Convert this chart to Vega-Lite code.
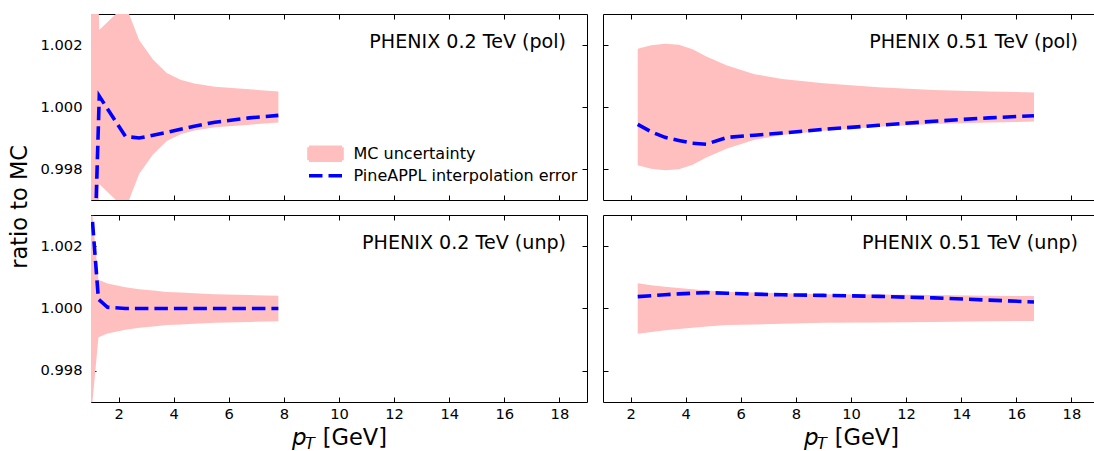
{
  "$schema": "https://vega.github.io/schema/vega-lite/v6.json",
  "background": "white",
  "padding": {"left": 8, "top": 13, "right": -3, "bottom": 0},
  "title": {"text": "ratio to MC", "orient": "left", "anchor": "middle", "frame": "bounds", "fontSize": 22.5, "fontWeight": "normal", "font": "DejaVu Sans", "color": "black", "offset": 8, "dx": 26},
  "config": {
    "font": "DejaVu Sans",
    "view": {"stroke": "black", "strokeWidth": 1},
    "axis": {"domain": false, "grid": false, "tickColor": "black", "tickSize": -5, "tickWidth": 1, "labelFont": "DejaVu Sans", "labelFontSize": 14.7, "labelColor": "black", "titleFont": "DejaVu Sans", "titleFontSize": 22.5, "titleFontWeight": "normal", "titleColor": "black"},
    "concat": {"spacing": 14}
  },
  "datasets": {
    "curves": [
      {"panel": "p02pol", "pt": 1.0, "interp": 0.9914, "lo": 0.988, "hi": 1.012},
      {"panel": "p02pol", "pt": 1.3, "interp": 1.00035, "lo": 0.99752, "hi": 1.00248},
      {"panel": "p02pol", "pt": 2.25, "interp": 0.99905, "lo": 0.9967, "hi": 1.0033},
      {"panel": "p02pol", "pt": 2.75, "interp": 0.999, "lo": 0.99785, "hi": 1.00215},
      {"panel": "p02pol", "pt": 3.25, "interp": 0.99909, "lo": 0.99847, "hi": 1.00153},
      {"panel": "p02pol", "pt": 3.75, "interp": 0.99918, "lo": 0.9989, "hi": 1.0011},
      {"panel": "p02pol", "pt": 4.25, "interp": 0.99928, "lo": 0.99912, "hi": 1.00088},
      {"panel": "p02pol", "pt": 4.75, "interp": 0.99938, "lo": 0.99924, "hi": 1.00076},
      {"panel": "p02pol", "pt": 5.5, "interp": 0.99951, "lo": 0.99935, "hi": 1.00065},
      {"panel": "p02pol", "pt": 6.75, "interp": 0.99965, "lo": 0.99943, "hi": 1.00057},
      {"panel": "p02pol", "pt": 7.8, "interp": 0.99973, "lo": 0.9995, "hi": 1.0005},

      {"panel": "p02unp", "pt": 1.0, "interp": 1.0034, "lo": 0.9965, "hi": 1.0035},
      {"panel": "p02unp", "pt": 1.27, "interp": 1.0003, "lo": 0.99908, "hi": 1.00092},
      {"panel": "p02unp", "pt": 1.6, "interp": 1.00004, "lo": 0.9992, "hi": 1.0008},
      {"panel": "p02unp", "pt": 2.25, "interp": 1.0, "lo": 0.99932, "hi": 1.00068},
      {"panel": "p02unp", "pt": 2.75, "interp": 1.0, "lo": 0.99938, "hi": 1.00062},
      {"panel": "p02unp", "pt": 3.25, "interp": 1.0, "lo": 0.99942, "hi": 1.00058},
      {"panel": "p02unp", "pt": 3.75, "interp": 1.0, "lo": 0.99947, "hi": 1.00053},
      {"panel": "p02unp", "pt": 4.25, "interp": 1.0, "lo": 0.99949, "hi": 1.00051},
      {"panel": "p02unp", "pt": 4.75, "interp": 1.0, "lo": 0.99951, "hi": 1.00049},
      {"panel": "p02unp", "pt": 5.5, "interp": 1.0, "lo": 0.99954, "hi": 1.00046},
      {"panel": "p02unp", "pt": 6.75, "interp": 1.0, "lo": 0.99957, "hi": 1.00043},
      {"panel": "p02unp", "pt": 7.8, "interp": 1.0, "lo": 0.99959, "hi": 1.00041},

      {"panel": "p051pol", "pt": 2.26, "interp": 0.99944, "lo": 0.99812, "hi": 1.00188},
      {"panel": "p051pol", "pt": 2.75, "interp": 0.9992, "lo": 0.99801, "hi": 1.00199},
      {"panel": "p051pol", "pt": 3.25, "interp": 0.99902, "lo": 0.99796, "hi": 1.00204},
      {"panel": "p051pol", "pt": 3.75, "interp": 0.99892, "lo": 0.99799, "hi": 1.00201},
      {"panel": "p051pol", "pt": 4.25, "interp": 0.99883, "lo": 0.99814, "hi": 1.00186},
      {"panel": "p051pol", "pt": 4.75, "interp": 0.9988, "lo": 0.99837, "hi": 1.00163},
      {"panel": "p051pol", "pt": 5.5, "interp": 0.99902, "lo": 0.99866, "hi": 1.00134},
      {"panel": "p051pol", "pt": 6.5, "interp": 0.99909, "lo": 0.99894, "hi": 1.00106},
      {"panel": "p051pol", "pt": 7.5, "interp": 0.99916, "lo": 0.9991, "hi": 1.0009},
      {"panel": "p051pol", "pt": 9.0, "interp": 0.99928, "lo": 0.99923, "hi": 1.00077},
      {"panel": "p051pol", "pt": 11.0, "interp": 0.99941, "lo": 0.99936, "hi": 1.00064},
      {"panel": "p051pol", "pt": 13.0, "interp": 0.99954, "lo": 0.99945, "hi": 1.00055},
      {"panel": "p051pol", "pt": 15.0, "interp": 0.99965, "lo": 0.9995, "hi": 1.0005},
      {"panel": "p051pol", "pt": 16.64, "interp": 0.99972, "lo": 0.99953, "hi": 1.00047},

      {"panel": "p051unp", "pt": 2.26, "interp": 1.00038, "lo": 0.99919, "hi": 1.00081},
      {"panel": "p051unp", "pt": 2.75, "interp": 1.00041, "lo": 0.99925, "hi": 1.00075},
      {"panel": "p051unp", "pt": 3.25, "interp": 1.00044, "lo": 0.9993, "hi": 1.0007},
      {"panel": "p051unp", "pt": 3.75, "interp": 1.00047, "lo": 0.99934, "hi": 1.00066},
      {"panel": "p051unp", "pt": 4.25, "interp": 1.00049, "lo": 0.99938, "hi": 1.00062},
      {"panel": "p051unp", "pt": 4.75, "interp": 1.00051, "lo": 0.99942, "hi": 1.00058},
      {"panel": "p051unp", "pt": 5.5, "interp": 1.00049, "lo": 0.99947, "hi": 1.00053},
      {"panel": "p051unp", "pt": 6.5, "interp": 1.00046, "lo": 0.99949, "hi": 1.00051},
      {"panel": "p051unp", "pt": 7.5, "interp": 1.00044, "lo": 0.99951, "hi": 1.00049},
      {"panel": "p051unp", "pt": 9.0, "interp": 1.00042, "lo": 0.99954, "hi": 1.00046},
      {"panel": "p051unp", "pt": 11.0, "interp": 1.00039, "lo": 0.99955, "hi": 1.00045},
      {"panel": "p051unp", "pt": 13.0, "interp": 1.00034, "lo": 0.99957, "hi": 1.00043},
      {"panel": "p051unp", "pt": 15.0, "interp": 1.00027, "lo": 0.99959, "hi": 1.00041},
      {"panel": "p051unp", "pt": 16.64, "interp": 1.00021, "lo": 0.9996, "hi": 1.0004}
    ],
    "labels": [
      {"panel": "p02pol", "label": "PHENIX 0.2 TeV (pol)"},
      {"panel": "p02unp", "label": "PHENIX 0.2 TeV (unp)"},
      {"panel": "p051pol", "label": "PHENIX 0.51 TeV (pol)"},
      {"panel": "p051unp", "label": "PHENIX 0.51 TeV (unp)"}
    ]
  },
  "spacing": 13,
  "vconcat": [
    {
      "spacing": 14,
      "hconcat": [
        {
          "width": 496, "height": 186,
          "layer": [
            {
              "data": {"name": "curves"},
              "transform": [{"filter": "datum.panel == 'p02pol'"}],
              "mark": {"type": "area", "clip": true, "opacity": 1},
              "encoding": {
                "x": {"field": "pt", "type": "quantitative", "scale": {"domain": [1, 19]}, "axis": {"orient": "bottom", "values": [2,4,6,8,10,12,14,16,18], "labels": false, "title": null, "tickSize": -5}},
                "y": {"field": "lo", "type": "quantitative", "scale": {"domain": [0.997, 1.003]}, "axis": {"orient": "left", "values": [0.998, 1.0, 1.002], "format": ".3f", "labelFontSize": 14.7, "labelFont": "DejaVu Sans", "labelPadding": 14, "tickSize": -5, "title": null}},
                "y2": {"field": "hi"},
                "color": {"datum": "MC uncertainty", "type": "nominal",
                  "scale": {"domain": ["MC uncertainty", "PineAPPL interpolation error"], "range": ["#ffbfbf", "#0000ff"]},
                  "legend": {"orient": "none", "legendX": 226.5, "legendY": 131.75, "title": null, "padding": 0, "labelFontSize": 16, "labelFont": "DejaVu Sans", "labelColor": "black", "labelOffset": 20, "labelLimit": 0, "symbolSize": 64, "rowPadding": 0,
                    "encode": {"symbols": {"update": {
                      "shape": {"signal": "datum.value == 'MC uncertainty' ? 'M-4.125,-1.625H4.125V1.625H-4.125Z' : 'M-4.125,0H4.125'"},
                      "fill": {"signal": "datum.value == 'MC uncertainty' ? '#ffbfbf' : 'transparent'"},
                      "stroke": {"signal": "datum.value == 'MC uncertainty' ? 'transparent' : '#0000ff'"},
                      "strokeWidth": {"value": 3.6},
                      "strokeDash": {"signal": "datum.value == 'MC uncertainty' ? [1, 0] : [13.5, 6]"},
                      "opacity": {"value": 1}
                    }}}
                  }}
              }
            },
            {
              "data": {"name": "curves"},
              "transform": [{"filter": "datum.panel == 'p02pol'"}],
              "mark": {"type": "line", "clip": true, "strokeWidth": 3.6, "strokeDash": [13.5, 6], "strokeCap": "butt"},
              "encoding": {
                "x": {"field": "pt", "type": "quantitative", "scale": {"domain": [1, 19]}, "axis": null},
                "y": {"field": "interp", "type": "quantitative", "scale": {"domain": [0.997, 1.003]}, "axis": null},
                "color": {"datum": "PineAPPL interpolation error", "type": "nominal",
                  "legend": {"orient": "none", "legendX": 226.5, "legendY": 131.75, "title": null, "padding": 0, "labelFontSize": 16, "labelFont": "DejaVu Sans", "labelColor": "black", "labelOffset": 20, "labelLimit": 0, "symbolSize": 64, "rowPadding": 0,
                    "encode": {"symbols": {"update": {
                      "shape": {"signal": "datum.value == 'MC uncertainty' ? 'M-4.125,-1.625H4.125V1.625H-4.125Z' : 'M-4.125,0H4.125'"},
                      "fill": {"signal": "datum.value == 'MC uncertainty' ? '#ffbfbf' : 'transparent'"},
                      "stroke": {"signal": "datum.value == 'MC uncertainty' ? 'transparent' : '#0000ff'"},
                      "strokeWidth": {"value": 3.6},
                      "strokeDash": {"signal": "datum.value == 'MC uncertainty' ? [1, 0] : [13.5, 6]"},
                      "opacity": {"value": 1}
                    }}}
                  }}
              }
            },
            {
              "data": {"name": "labels"},
              "transform": [{"filter": "datum.panel == 'p02pol'"}],
              "mark": {"type": "text", "align": "right", "baseline": "alphabetic", "fontSize": 19.1, "color": "black"},
              "encoding": {
                "x": {"datum": 18.24, "type": "quantitative", "scale": {"domain": [1, 19]}, "axis": {"orient": "top", "values": [2,4,6,8,10,12,14,16,18], "labels": false, "title": null, "tickSize": -5}},
                "y": {"datum": 1.0019, "type": "quantitative", "scale": {"domain": [0.997, 1.003]}, "axis": {"orient": "right", "values": [0.998, 1.0, 1.002], "labels": false, "title": null, "tickSize": -5}},
                "text": {"field": "label"}
              }
            }
          ],
          "resolve": {"axis": {"x": "independent", "y": "independent"}}
        },
        {
          "width": 496, "height": 186,
          "layer": [
            {
              "data": {"name": "curves"},
              "transform": [{"filter": "datum.panel == 'p051pol'"}],
              "mark": {"type": "area", "clip": true, "color": "#ffbfbf", "opacity": 1},
              "encoding": {
                "x": {"field": "pt", "type": "quantitative", "scale": {"domain": [1, 19]}, "axis": {"orient": "bottom", "values": [2,4,6,8,10,12,14,16,18], "labels": false, "title": null, "tickSize": -5}},
                "y": {"field": "lo", "type": "quantitative", "scale": {"domain": [0.997, 1.003]}, "axis": {"orient": "left", "values": [0.998, 1.0, 1.002], "labels": false, "title": null, "tickSize": -5}},
                "y2": {"field": "hi"}
              }
            },
            {
              "data": {"name": "curves"},
              "transform": [{"filter": "datum.panel == 'p051pol'"}],
              "mark": {"type": "line", "clip": true, "color": "#0000ff", "strokeWidth": 3.6, "strokeDash": [13.5, 6], "strokeCap": "butt"},
              "encoding": {
                "x": {"field": "pt", "type": "quantitative", "scale": {"domain": [1, 19]}, "axis": null},
                "y": {"field": "interp", "type": "quantitative", "scale": {"domain": [0.997, 1.003]}, "axis": null}
              }
            },
            {
              "data": {"name": "labels"},
              "transform": [{"filter": "datum.panel == 'p051pol'"}],
              "mark": {"type": "text", "align": "right", "baseline": "alphabetic", "fontSize": 19.1, "color": "black"},
              "encoding": {
                "x": {"datum": 18.24, "type": "quantitative", "scale": {"domain": [1, 19]}, "axis": {"orient": "top", "values": [2,4,6,8,10,12,14,16,18], "labels": false, "title": null, "tickSize": -5}},
                "y": {"datum": 1.0019, "type": "quantitative", "scale": {"domain": [0.997, 1.003]}, "axis": {"orient": "right", "values": [0.998, 1.0, 1.002], "labels": false, "title": null, "tickSize": -5}},
                "text": {"field": "label"}
              }
            }
          ],
          "resolve": {"axis": {"x": "independent", "y": "independent"}}
        }
      ]
    },
    {
      "spacing": 14,
      "hconcat": [
        {
          "width": 496, "height": 187,
          "layer": [
            {
              "data": {"name": "curves"},
              "transform": [{"filter": "datum.panel == 'p02unp'"}],
              "mark": {"type": "area", "clip": true, "color": "#ffbfbf", "opacity": 1},
              "encoding": {
                "x": {"field": "pt", "type": "quantitative", "scale": {"domain": [1, 19]}, "axis": {"orient": "bottom", "values": [2,4,6,8,10,12,14,16,18], "labelFontSize": 14.7, "labelFont": "DejaVu Sans", "labelPadding": 9, "tickSize": -5, "title": "𝘱\u2002\u2009[GeV]", "titleFontSize": 22.5, "titlePadding": 6}},
                "y": {"field": "lo", "type": "quantitative", "scale": {"domain": [0.997, 1.003]}, "axis": {"orient": "left", "values": [0.998, 1.0, 1.002], "format": ".3f", "labelFontSize": 14.7, "labelFont": "DejaVu Sans", "labelPadding": 14, "tickSize": -5, "title": null}},
                "y2": {"field": "hi"}
              }
            },
            {
              "data": {"name": "curves"},
              "transform": [{"filter": "datum.panel == 'p02unp'"}],
              "mark": {"type": "line", "clip": true, "color": "#0000ff", "strokeWidth": 3.6, "strokeDash": [13.5, 6], "strokeCap": "butt"},
              "encoding": {
                "x": {"field": "pt", "type": "quantitative", "scale": {"domain": [1, 19]}, "axis": null},
                "y": {"field": "interp", "type": "quantitative", "scale": {"domain": [0.997, 1.003]}, "axis": null}
              }
            },
            {
              "data": {"name": "labels"},
              "transform": [{"filter": "datum.panel == 'p02unp'"}],
              "mark": {"type": "text", "align": "right", "baseline": "alphabetic", "fontSize": 19.1, "color": "black"},
              "encoding": {
                "x": {"datum": 18.24, "type": "quantitative", "scale": {"domain": [1, 19]}, "axis": {"orient": "top", "values": [2,4,6,8,10,12,14,16,18], "labels": false, "title": null, "tickSize": -5}},
                "y": {"datum": 1.0019, "type": "quantitative", "scale": {"domain": [0.997, 1.003]}, "axis": {"orient": "right", "values": [0.998, 1.0, 1.002], "labels": false, "title": null, "tickSize": -5}},
                "text": {"field": "label"}
              }
            },
            {
              "data": {"name": "labels"},
              "transform": [{"filter": "datum.panel == 'p02unp'"}],
              "mark": {"type": "text", "align": "center", "baseline": "alphabetic", "fontSize": 15.5, "color": "black"},
              "encoding": {
                "x": {"datum": 8.93, "type": "quantitative", "scale": {"domain": [1, 19]}, "axis": null},
                "y": {"datum": 0.9955, "type": "quantitative", "scale": {"domain": [0.997, 1.003]}, "axis": null},
                "text": {"value": "𝘛"}
              }
            }
          ],
          "resolve": {"axis": {"x": "independent", "y": "independent"}}
        },
        {
          "width": 496, "height": 187,
          "layer": [
            {
              "data": {"name": "curves"},
              "transform": [{"filter": "datum.panel == 'p051unp'"}],
              "mark": {"type": "area", "clip": true, "color": "#ffbfbf", "opacity": 1},
              "encoding": {
                "x": {"field": "pt", "type": "quantitative", "scale": {"domain": [1, 19]}, "axis": {"orient": "bottom", "values": [2,4,6,8,10,12,14,16,18], "labelFontSize": 14.7, "labelFont": "DejaVu Sans", "labelPadding": 9, "tickSize": -5, "title": "𝘱\u2002\u2009[GeV]", "titleFontSize": 22.5, "titlePadding": 6}},
                "y": {"field": "lo", "type": "quantitative", "scale": {"domain": [0.997, 1.003]}, "axis": {"orient": "left", "values": [0.998, 1.0, 1.002], "labels": false, "title": null, "tickSize": -5}},
                "y2": {"field": "hi"}
              }
            },
            {
              "data": {"name": "curves"},
              "transform": [{"filter": "datum.panel == 'p051unp'"}],
              "mark": {"type": "line", "clip": true, "color": "#0000ff", "strokeWidth": 3.6, "strokeDash": [13.5, 6], "strokeCap": "butt"},
              "encoding": {
                "x": {"field": "pt", "type": "quantitative", "scale": {"domain": [1, 19]}, "axis": null},
                "y": {"field": "interp", "type": "quantitative", "scale": {"domain": [0.997, 1.003]}, "axis": null}
              }
            },
            {
              "data": {"name": "labels"},
              "transform": [{"filter": "datum.panel == 'p051unp'"}],
              "mark": {"type": "text", "align": "right", "baseline": "alphabetic", "fontSize": 19.1, "color": "black"},
              "encoding": {
                "x": {"datum": 18.24, "type": "quantitative", "scale": {"domain": [1, 19]}, "axis": {"orient": "top", "values": [2,4,6,8,10,12,14,16,18], "labels": false, "title": null, "tickSize": -5}},
                "y": {"datum": 1.0019, "type": "quantitative", "scale": {"domain": [0.997, 1.003]}, "axis": {"orient": "right", "values": [0.998, 1.0, 1.002], "labels": false, "title": null, "tickSize": -5}},
                "text": {"field": "label"}
              }
            },
            {
              "data": {"name": "labels"},
              "transform": [{"filter": "datum.panel == 'p051unp'"}],
              "mark": {"type": "text", "align": "center", "baseline": "alphabetic", "fontSize": 15.5, "color": "black"},
              "encoding": {
                "x": {"datum": 8.93, "type": "quantitative", "scale": {"domain": [1, 19]}, "axis": null},
                "y": {"datum": 0.9955, "type": "quantitative", "scale": {"domain": [0.997, 1.003]}, "axis": null},
                "text": {"value": "𝘛"}
              }
            }
          ],
          "resolve": {"axis": {"x": "independent", "y": "independent"}}
        }
      ]
    }
  ]
}
